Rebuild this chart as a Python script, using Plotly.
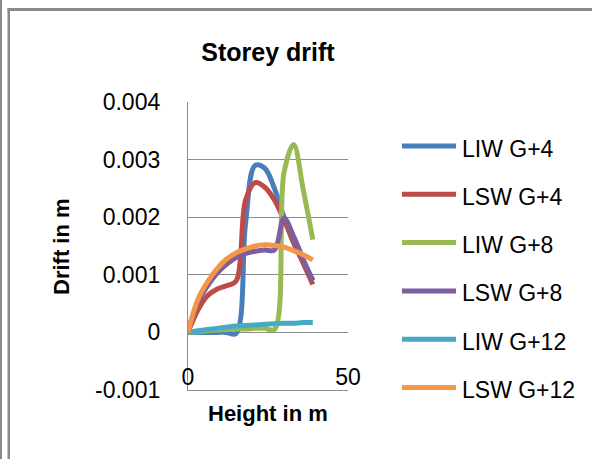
import plotly.graph_objects as go

# ---------------- data ----------------
heights = [0, 3, 6, 9, 12, 15, 18, 21, 24, 27, 30, 33, 36, 39]

series_names = ["LIW G+4", "LSW G+4", "LIW G+8", "LSW G+8", "LIW G+12", "LSW G+12"]

liw_g4 = [0, 0, 0, 0, 0, -0.00002, 0.0019, 0.0029, 0.00285, 0.0025, 0.0020, 0.00155, 0.00122, 0.00091]
lsw_g4 = [0, 0.00038, 0.00063, 0.00075, 0.00081, 0.00089, 0.0023, 0.0026, 0.00252, 0.0023, 0.00195, 0.00158, 0.0012, 0.00083]
liw_g8 = [0, 0.00001, 0.00003, 0.00004, 0.00005, 0.00006, 0.00006, 0.00007, 0.00007, 0.00005, 0.00277, 0.00326, 0.00248, 0.00161]
lsw_g8 = [0, 0.00052, 0.0008, 0.00102, 0.00118, 0.0013, 0.00137, 0.00141, 0.00143, 0.00143, 0.00198, 0.00167, 0.00127, 0.0009]
liw_g12 = [0, 0.00003, 0.00005, 0.00007, 0.00009, 0.00011, 0.00012, 0.00013, 0.00014, 0.00015, 0.00016, 0.00016, 0.00017, 0.00017]
lsw_g12 = [0, 0.00056, 0.00087, 0.0011, 0.00127, 0.00138, 0.00145, 0.0015, 0.00152, 0.00151, 0.00148, 0.00142, 0.00135, 0.00126]

y_tickvals = [-0.001, 0, 0.001, 0.002, 0.003, 0.004]
y_ticktext = ["-0.001", "0", "0.001", "0.002", "0.003", "0.004"]
x_tickvals = [0, 50]
x_ticktext = ["0", "50"]

colors = ["#4A7EBB", "#BE4B48", "#98B954", "#7D5FA0", "#46AAC5", "#F59646"]
all_series = [liw_g4, lsw_g4, liw_g8, lsw_g8, liw_g12, lsw_g12]

FONT = "Liberation Sans"
W, H = 592, 459
L, R, T, B = 188, 244, 102, 69
PW, PH = W - L - R, H - T - B


def px_x(p):
    return (p - L) / PW


def px_y(p):
    return (H - B - p) / PH


fig = go.Figure()
for name, vals, col in zip(series_names, all_series, colors):
    fig.add_trace(go.Scatter(
        x=heights, y=vals, name=name, mode="lines",
        line=dict(color=col, width=5, shape="spline", smoothing=1),
        showlegend=False,
    ))

shapes = []
annotations = []

# custom legend
leg_y0 = 146
leg_step = 48.3
for i, (name, col) in enumerate(zip(series_names, colors)):
    yy = px_y(leg_y0 + i * leg_step)
    shapes.append(dict(type="line", xref="paper", yref="paper",
                       x0=px_x(402), x1=px_x(456), y0=yy, y1=yy,
                       line=dict(color=col, width=5)))
    annotations.append(dict(xref="paper", yref="paper", x=px_x(460), y=yy - 2.5 / PH,
                            text=name, showarrow=False, xanchor="left", yanchor="middle",
                            font=dict(family=FONT, size=23, color="black")))

# axis titles
annotations.append(dict(xref="paper", yref="paper", x=px_x(268), y=px_y(413),
                        text="<b>Height in m</b>", showarrow=False,
                        xanchor="center", yanchor="middle",
                        font=dict(family=FONT, size=22, color="black")))
annotations.append(dict(xref="paper", yref="paper", x=px_x(61), y=px_y(247),
                        text="<b>Drift in m</b>", showarrow=False, textangle=-90,
                        xanchor="center", yanchor="middle",
                        font=dict(family=FONT, size=22, color="black")))

# frame lines
frame_col = "#8a8a8a"
shapes.append(dict(type="line", xref="paper", yref="paper",
                   x0=px_x(1), x1=px_x(1), y0=px_y(0), y1=px_y(H),
                   line=dict(color=frame_col, width=2)))
shapes.append(dict(type="line", xref="paper", yref="paper",
                   x0=px_x(8.75), x1=px_x(8.75), y0=px_y(8), y1=px_y(H),
                   line=dict(color=frame_col, width=2.5)))
shapes.append(dict(type="line", xref="paper", yref="paper",
                   x0=px_x(7.5), x1=px_x(W), y0=px_y(9.5), y1=px_y(9.5),
                   line=dict(color=frame_col, width=3)))

fig.update_layout(
    width=W, height=H,
    margin=dict(l=L, r=R, t=T, b=B, pad=0),
    paper_bgcolor="white", plot_bgcolor="white",
    font=dict(family=FONT, size=23, color="black"),
    title=dict(text="<b>Storey drift</b>", xref="container", yref="container",
               x=268 / W, y=1 - 52 / H, xanchor="center", yanchor="middle",
               font=dict(family=FONT, size=25, color="black")),
    xaxis=dict(range=[0, 50], tickvals=x_tickvals, ticktext=x_ticktext,
               showgrid=False, zeroline=False, showline=True,
               linecolor="#8c8c8c", linewidth=1.3, ticks="",
               ticklabelstandoff=-34,
               tickfont=dict(family=FONT, size=23, color="black")),
    yaxis=dict(range=[-0.001, 0.004], tickvals=y_tickvals, ticktext=y_ticktext,
               showgrid=True, gridcolor="#8c8c8c", gridwidth=1.3,
               zeroline=False, showline=True, linecolor="#8c8c8c", linewidth=1.3,
               ticks="", ticklabelstandoff=22,
               tickfont=dict(family=FONT, size=23, color="black")),
    shapes=shapes, annotations=annotations,
)

fig.write_html("out.html")
